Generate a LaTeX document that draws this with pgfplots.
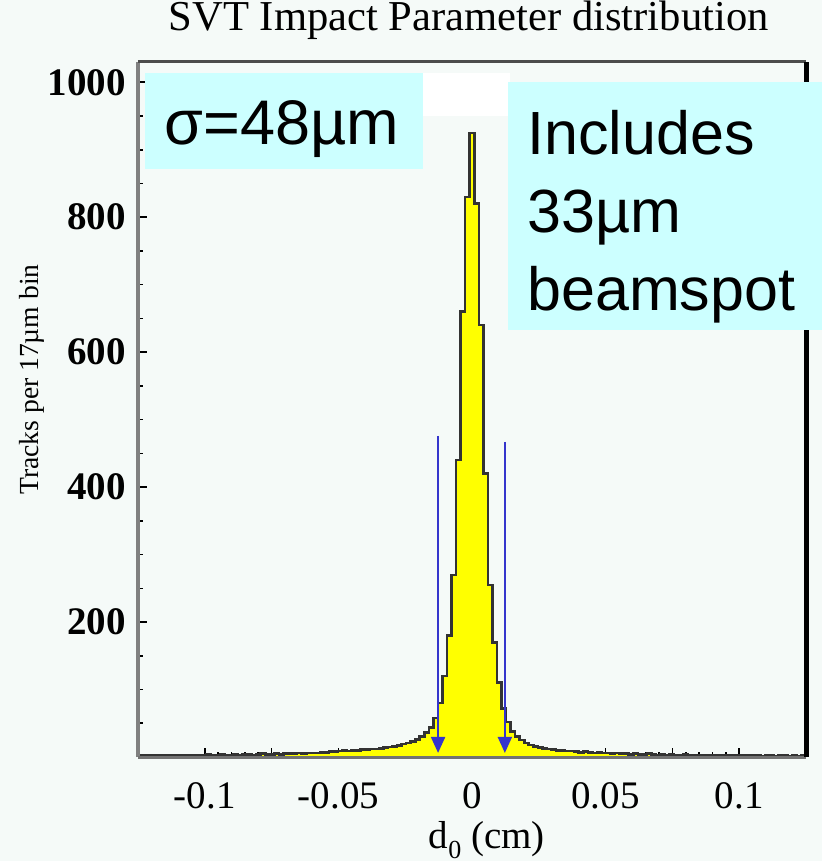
\documentclass[border=0pt]{standalone}
\usepackage{fontspec}
\setmainfont{Liberation Serif}
\newfontfamily\arialfont{Liberation Sans}
\usepackage{pgfplots}
\usepackage{pgfplotstable}
\pgfplotsset{compat=1.18}
\usetikzlibrary{arrows.meta}
\definecolor{bgc}{HTML}{F5FAF8}
\definecolor{boxc}{HTML}{CCFFFF}
\definecolor{arrc}{HTML}{3535CC}
\definecolor{histy}{HTML}{FFFF00}

\pgfplotstableread{
x n
-0.1241 2
-0.1224 2
-0.1207 3
-0.1190 2
-0.1173 3
-0.1156 2
-0.1139 3
-0.1122 2
-0.1105 3
-0.1088 3
-0.1071 2
-0.1054 3
-0.1037 3
-0.1020 2
-0.1003 3
-0.0986 4
-0.0969 3
-0.0952 3
-0.0935 4
-0.0918 3
-0.0901 3
-0.0884 4
-0.0867 3
-0.0850 4
-0.0833 4
-0.0816 3
-0.0799 4
-0.0782 5
-0.0765 4
-0.0748 4
-0.0731 5
-0.0714 4
-0.0697 5
-0.0680 5
-0.0663 5
-0.0646 6
-0.0629 5
-0.0612 6
-0.0595 6
-0.0578 6
-0.0561 7
-0.0544 7
-0.0527 8
-0.0510 8
-0.0493 9
-0.0476 10
-0.0459 9
-0.0442 10
-0.0425 10
-0.0408 11
-0.0391 11
-0.0374 12
-0.0357 12
-0.0340 13
-0.0323 14
-0.0306 15
-0.0289 16
-0.0272 17
-0.0255 19
-0.0238 21
-0.0221 23
-0.0204 26
-0.0187 30
-0.0170 36
-0.0153 44
-0.0136 58
-0.0119 80
-0.0102 120
-0.0085 180
-0.0068 270
-0.0051 440
-0.0034 660
-0.0017 830
0.0000 925
0.0017 820
0.0034 640
0.0051 420
0.0068 255
0.0085 170
0.0102 110
0.0119 72
0.0136 52
0.0153 38
0.0170 30
0.0187 25
0.0204 21
0.0221 18
0.0238 16
0.0255 14
0.0272 13
0.0289 12
0.0306 11
0.0323 10
0.0340 10
0.0357 9
0.0374 9
0.0391 8
0.0408 7
0.0425 8
0.0442 7
0.0459 6
0.0476 7
0.0493 6
0.0510 6
0.0527 5
0.0544 6
0.0561 5
0.0578 5
0.0595 4
0.0612 5
0.0629 4
0.0646 4
0.0663 5
0.0680 4
0.0697 3
0.0714 4
0.0731 3
0.0748 4
0.0765 3
0.0782 3
0.0799 4
0.0816 3
0.0833 2
0.0850 3
0.0867 3
0.0884 2
0.0901 3
0.0918 2
0.0935 3
0.0952 2
0.0969 2
0.0986 3
0.1003 2
0.1020 2
0.1037 3
0.1054 2
0.1071 2
0.1088 1
0.1105 2
0.1122 2
0.1139 1
0.1156 2
0.1173 2
0.1190 1
0.1207 2
0.1224 1
0.1241 2
}\histdata

\begin{document}
\begin{tikzpicture}
\useasboundingbox[fill=bgc] (-69pt,-52pt) rectangle (342pt,378.5pt);
\begin{axis}[
  scale only axis, width=334pt, height=347.5pt,
  xmin=-0.125, xmax=0.125, ymin=0, ymax=1030,
  clip=false,
  axis background/.style={fill=bgc},
  axis line style={draw=none},
  tick align=inside, xtick pos=bottom, ytick pos=left,
  xtick={-0.1,-0.05,0,0.05,0.1},
  xticklabels={-0.1,-0.05,0,0.05,0.1},
  minor x tick num=9,
  extra x ticks={-0.075,-0.025,0.025,0.075},
  extra x tick labels={},
  ytick={0,200,400,600,800,1000},
  yticklabels={,200,400,600,800,1000},
  minor y tick num=3,
  major tick length=4.5pt, minor tick length=2.5pt,
  tick style={black, line width=0.8pt},
  yticklabel style={font=\bfseries\fontsize{19.5}{22}\selectfont, xshift=-2.5pt},
  xticklabel style={font=\fontsize{19.5}{22}\selectfont, anchor=base, yshift=-25.5pt},
  title={SVT Impact Parameter distribution},
  title style={font=\fontsize{21.3}{24}\selectfont, at={(axis description cs:0.495,1)}, anchor=base, yshift=9.5pt},
  xlabel={d{\fontsize{13}{13}\selectfont\raisebox{-5pt}{0}} (cm)},
  xlabel style={font=\fontsize{19.5}{22}\selectfont, at={(axis description cs:0.522,0)}, anchor=base, yshift=-45.5pt},
  ylabel={Tracks per 17µm bin},
  ylabel style={font=\fontsize{13.8}{16}\selectfont, at={(axis description cs:-0.159,0.543)}, anchor=center},
]
\addplot[const plot mark mid, fill=histy, draw=black!80, line width=1.3pt] table[x=x,y=n] {\histdata} \closedcycle;
\draw[arrc, line width=1pt, -{Triangle[length=8pt,width=7pt]}] (axis cs:-0.0127,476) -- (axis cs:-0.0127,6);
\draw[arrc, line width=1pt, -{Triangle[length=8pt,width=7pt]}] (axis cs:0.0123,467) -- (axis cs:0.0123,6);
\draw[black!50, line width=2pt] (rel axis cs:0,0) -- (rel axis cs:0,1);
\draw[black!55, line width=1.5pt] (rel axis cs:0,0) -- (rel axis cs:1,0);
\draw[black!70, line width=1.5pt] (rel axis cs:0,1) -- (rel axis cs:1,1);
\draw[black, line width=2.5pt] (rel axis cs:1,0) -- (rel axis cs:1,1);
\end{axis}
\fill[white] (142pt,320.5pt) rectangle (186pt,342pt);
\fill[boxc] (3.5pt,294pt) rectangle (142.5pt,342pt);
\node[anchor=base, inner sep=0pt, font=\arialfont\fontsize{31.5}{36}\selectfont] at (72pt,306pt) {σ=48µm};
\fill[boxc] (185pt,213.5pt) rectangle (342pt,337.5pt);
\node[anchor=base west, inner sep=0pt, font=\arialfont\fontsize{30.5}{36}\selectfont] at (194.5pt,301pt) {Includes};
\node[anchor=base west, inner sep=0pt, font=\arialfont\fontsize{30.5}{36}\selectfont] at (194.5pt,262pt) {33µm};
\node[anchor=base west, inner sep=0pt, font=\arialfont\fontsize{30.5}{36}\selectfont] at (194.5pt,223pt) {beamspot};
\end{tikzpicture}
\end{document}
